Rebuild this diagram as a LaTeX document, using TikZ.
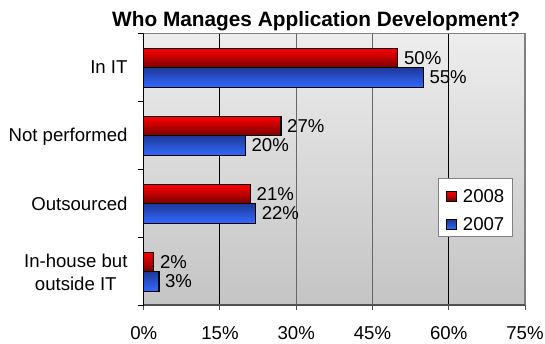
\documentclass[tikz,border=0pt]{standalone}
\usepackage{fontspec}
\setmainfont{Liberation Sans}
\definecolor{bgtop}{RGB}{237,237,237}
\definecolor{bgbot}{RGB}{196,196,196}
\definecolor{redtop}{RGB}{255,0,0}
\definecolor{redbot}{RGB}{122,0,0}
\definecolor{bluetop}{RGB}{28,56,150}
\definecolor{bluebot}{RGB}{52,104,255}
\definecolor{frame}{RGB}{128,128,128}
\definecolor{axisgray}{RGB}{80,80,80}
\begin{document}
\begin{tikzpicture}[x=1pt,y=-1pt,
  txt/.style={font=\fontsize{18.6}{22.7}\selectfont},
  titletxt/.style={font=\fontsize{20.8}{24}\selectfont\bfseries},
  bara/.style={draw=black,line width=1.1pt,top color=redtop,bottom color=redbot},
  barb/.style={draw=black,line width=1.1pt,top color=bluetop,bottom color=bluebot},
  grid/.style={line width=1pt},
  tick/.style={line width=1pt},
  valtxt/.style={txt,anchor=west,inner sep=0pt}]
\useasboundingbox (0,0) rectangle (545,343);

% plot area
\def\xo{143.7}\def\sc{5.084}\def\yt{33.3}\def\yb{305}\def\gh{67.93}
\shade[top color=bgtop,bottom color=bgbot] (\xo,\yt) rectangle (525,\yb);

% vertical grid lines
\draw[grid,black]  ({\xo+15*\sc},\yt) -- ({\xo+15*\sc},\yb);
\draw[grid,frame!80!black] ({\xo+30*\sc},\yt) -- ({\xo+30*\sc},\yb);
\draw[grid,frame!80!black] ({\xo+45*\sc},\yt) -- ({\xo+45*\sc},\yb);
\draw[grid,black]  ({\xo+60*\sc},\yt) -- ({\xo+60*\sc},\yb);

% frame (top and right)
\draw[line width=1.2pt,frame] (\xo,\yt) -- (525,\yt) -- (525,\yb);

% bars and value labels
\foreach \a/\b [count=\i from 0] in {50/55,27/20,21/22,2/3}{
  \pgfmathsetmacro\c{\yt+\gh*(\i+0.5)}
  \draw[bara] (\xo,{\c-18.9}) rectangle ({\xo+\a*\sc},\c);
  \draw[barb] (\xo,\c) rectangle ({\xo+\b*\sc},{\c+20});
  \node[valtxt] (va\i) at ({\xo+\a*\sc+6},{\c-9.2}) {\a\%};
  \node[valtxt] (vb\i) at ({\xo+\b*\sc+6},{\c+10.3}) {\b\%};
}

% axes
\draw[line width=1.2pt,axisgray] (\xo,\yb) -- (525,\yb);
\foreach \k in {0,15,30,45,60,75}{
  \draw[tick,axisgray] ({\xo+\k*\sc},\yb) -- ({\xo+\k*\sc},\yb+5);
  \node[txt,anchor=base,inner sep=0pt] (x\k) at ({\xo+\k*\sc},339.5) {\k\%};
}
\draw[line width=1.2pt,black] (\xo,\yt) -- (\xo,\yb);
\foreach \k in {0,...,4}{
  \draw[tick,black] (\xo-6,{\yt+\k*\gh}) -- (\xo,{\yt+\k*\gh});
}

% category labels
\node[txt,anchor=base east,inner sep=0pt] (c0) at (127.7,73.3) {In IT};
\node[txt,anchor=base east,inner sep=0pt] (c1) at (127.7,141.5) {Not performed};
\node[txt,anchor=base east,inner sep=0pt] (c2) at (127.7,210.7) {Outsourced};
\node[txt,anchor=east,inner sep=0pt,align=center] (c3) at (127.7,272.5) {In-house but\\outside IT};

% title
\node[titletxt,anchor=base,inner sep=0pt] (title) at (316.2,26) {Who Manages Application Development?};

% legend
\node[draw=frame,line width=1pt,fill=white,minimum width=74pt,minimum height=58.4pt,inner sep=0pt] (legend) at (475.3,207.5) {};
\node[draw=black,line width=0.8pt,top color=redtop,bottom color=redbot,minimum size=10pt,inner sep=0pt] (ka) at (451.4,196) {};
\node[draw=black,line width=0.8pt,top color=bluetop,bottom color=bluebot,minimum size=10pt,inner sep=0pt] (kb) at (451.4,224.5) {};
\node[txt,anchor=west,inner sep=0pt] (la) at (462.7,196) {2008};
\node[txt,anchor=west,inner sep=0pt] (lb) at (462.7,224.5) {2007};
\end{tikzpicture}
\end{document}
